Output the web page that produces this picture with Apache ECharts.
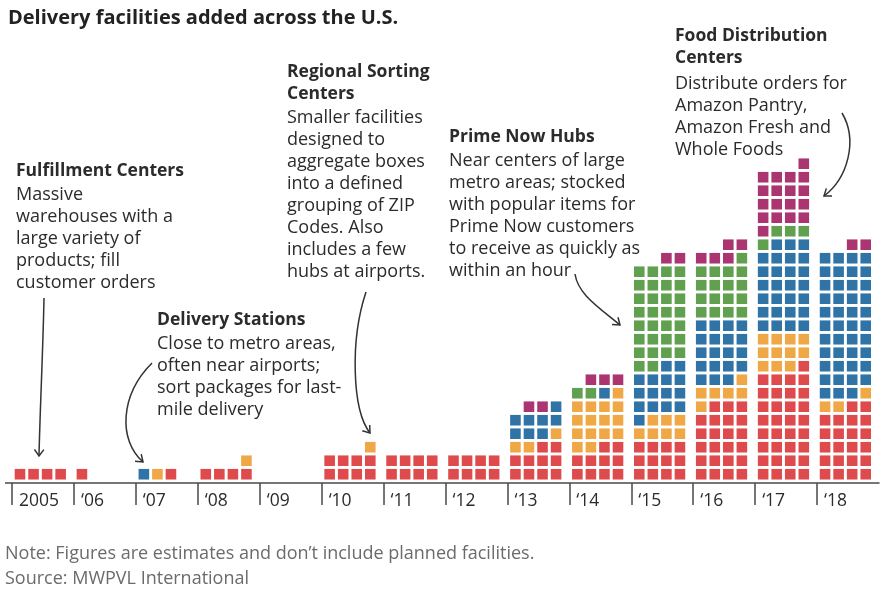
<!DOCTYPE html>
<html>
<head>
<meta charset="utf-8">
<script src="https://cdn.jsdelivr.net/npm/echarts@6/dist/echarts.min.js"></script>
<style>
html,body{margin:0;padding:0;background:#fff;}
#chart{width:889px;height:599px;}
</style>
</head>
<body>
<div id="chart"></div>
<script>
// ---- data ----
const years = ['2005','‘06','‘07','‘08','‘09','‘10','‘11','‘12','‘13','‘14','‘15','‘16','‘17','‘18'];
const categories = ['Fulfillment Centers','Regional Sorting Centers','Delivery Stations','Prime Now Hubs','Food Distribution Centers'];
const fulfillment = [4,1,1,4,0,8,8,8,10,10,12,23,33,22];
const sorting     = [0,0,1,1,0,1,0,0,3,15,7,6,11,3];
const delivery    = [0,0,1,0,0,0,0,0,8,1,15,19,27,43];
const primeNow    = [0,0,0,0,0,0,0,0,0,2,30,17,4,0];
const food        = [0,0,0,0,0,0,0,0,2,3,2,5,18,2];
const seriesValues = [fulfillment, sorting, delivery, primeNow, food];
const colors = ['#df4a4c','#efa845','#2f73a7','#60a04e','#aa3571'];

// ---- waffle layout (4 squares per row, filled bottom-up, right-to-left) ----
const PER_ROW = 4;
const YEAR_PX = 867 / 14;
const COL0 = 8 / YEAR_PX, COLSTEP = 13.55 / YEAR_PX;
const cells = categories.map(() => []);
years.forEach((y, i) => {
  const total = seriesValues.reduce((s, arr) => s + arr[i], 0);
  let k = 0;
  seriesValues.forEach((arr, c) => {
    for (let n = 0; n < arr[i]; n++, k++) {
      const row = Math.floor(k / PER_ROW);
      let col = PER_ROW - 1 - (k % PER_ROW);
      if (total < PER_ROW) col -= (PER_ROW - total);
      cells[c].push([i + COL0 + col * COLSTEP, row + 0.65]);
    }
  });
});

const chart = echarts.init(document.getElementById('chart'), null, {renderer: 'canvas'});
const FONT = 'Open Sans';
const TXT = '#2b2b2b';

function textBlock(x, yCenter, head, body, gap) {
  const els = [];
  const headLines = head.split('\n');
  els.push({type:'text', x:x, y:yCenter - 11, style:{text:head, font:'bold 17.5px "' + FONT + '"', fill:TXT, lineHeight:22, verticalAlign:'top'}});
  els.push({type:'text', x:x, y:yCenter - 11 + 22*(headLines.length - 1) + gap, style:{text:body, font:'18px "' + FONT + '"', fill:TXT, lineHeight:22, verticalAlign:'top'}});
  return els;
}
function arrow(p0, c1, c2, p1) {
  const dx = p1[0] - c2[0], dy = p1[1] - c2[1];
  const len = Math.hypot(dx, dy); const ux = dx/len, uy = dy/len;
  const L = 8, a = Math.PI/5;
  const rot = (t) => [p1[0] - L*(ux*Math.cos(t) - uy*Math.sin(t)), p1[1] - L*(ux*Math.sin(t) + uy*Math.cos(t))];
  return [
    {type:'bezierCurve', shape:{x1:p0[0],y1:p0[1],cpx1:c1[0],cpy1:c1[1],cpx2:c2[0],cpy2:c2[1],x2:p1[0],y2:p1[1]}, style:{stroke:'#333', lineWidth:1.5, fill:null}},
    {type:'polyline', shape:{points:[rot(a), p1, rot(-a)]}, style:{stroke:'#333', lineWidth:1.5, fill:null}}
  ];
}

const graphics = [
  {type:'text', x:8, y:8, style:{text:'Delivery facilities added across the U.S.', font:'bold 20px "' + FONT + '"', fill:'#222', verticalAlign:'top'}},
  ...textBlock(16, 171, 'Fulfillment Centers', 'Massive\nwarehouses with a\nlarge variety of\nproducts; fill\ncustomer orders', 24),
  ...textBlock(157, 320, 'Delivery Stations', 'Close to metro areas,\noften near airports;\nsort packages for last-\nmile delivery', 24),
  ...textBlock(287, 72, 'Regional Sorting\nCenters', 'Smaller facilities\ndesigned to\naggregate boxes\ninto a defined\ngrouping of ZIP\nCodes. Also\nincludes a few\nhubs at airports.', 24),
  ...textBlock(449, 137, 'Prime Now Hubs', 'Near centers of large\nmetro areas; stocked\nwith popular items for\nPrime Now customers\nto receive as quickly as\nwithin an hour', 24),
  ...textBlock(675, 36, 'Food Distribution\nCenters', 'Distribute orders for\nAmazon Pantry,\nAmazon Fresh and\nWhole Foods', 26),
  ...arrow([44,298],[43,350],[40,410],[39,456]),
  ...arrow([152,363],[120,395],[118,440],[143,462]),
  ...arrow([366,292],[350,340],[352,410],[370,433]),
  ...arrow([575,274],[578,294],[597,306],[620,325]),
  ...arrow([842,113],[858,140],[848,178],[824,196]),
  {type:'line', shape:{x1:5,y1:483,x2:12,y2:483}, style:{stroke:'#4a4a4a', lineWidth:1.5}},
  {type:'text', x:5, y:541, style:{text:'Note: Figures are estimates and don’t include planned facilities.\nSource: MWPVL International', font:'18px "' + FONT + '"', fill:'#6b6b6b', lineHeight:25, verticalAlign:'top'}}
];

const option = {
  animation: false,
  backgroundColor: '#fff',
  grid: {left: 12, right: 10, top: 132, bottom: 116, containLabel: false},
  xAxis: {
    type: 'value', min: 0, max: 14, interval: 1,
    splitLine: {show: false},
    axisLine: {show: true, lineStyle: {color: '#4a4a4a', width: 1.5}},
    axisTick: {show: true, length: 22, customValues: years.map((y,i)=>i), lineStyle: {color: '#4a4a4a', width: 1.5}},
    axisLabel: {show: true, customValues: years.map((y,i)=>i), formatter: (v) => years[Math.round(v)] || '', align: 'left', padding: [0,0,0,7], margin: 9, fontFamily: FONT, fontSize: 17.5, color: '#2b2b2b'}
  },
  yAxis: {
    type: 'value', min: 0, max: 26, interval: 1, show: false
  },
  series: categories.map((name, c) => ({
    name: name, type: 'scatter', symbol: 'rect', symbolSize: 10.6,
    itemStyle: {color: colors[c], opacity: 1},
    data: cells[c], silent: true
  })),
  graphic: graphics
};
chart.setOption(option);
</script>
</body>
</html>
